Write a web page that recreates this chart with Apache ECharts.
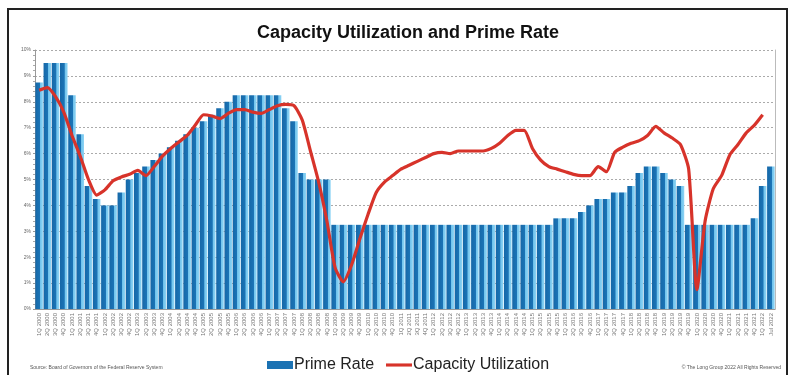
<!DOCTYPE html>
<html>
<head>
<meta charset="utf-8">
<script src="https://cdn.jsdelivr.net/npm/echarts@6/dist/echarts.min.js"></script>
<style>
  html, body { margin: 0; padding: 0; background: #fff; }
  #app { width: 789px; height: 375px; }
</style>
</head>
<body>
<div id="app"></div>
<script>
const app = document.getElementById("app");
const myChart = echarts.init(app);

// quarterly categories
const quarters = [
  "1Q 2000", "2Q 2000", "3Q 2000", "4Q 2000", "1Q 2001", "2Q 2001", "3Q 2001", "4Q 2001",
  "1Q 2002", "2Q 2002", "3Q 2002", "4Q 2002", "1Q 2003", "2Q 2003", "3Q 2003", "4Q 2003",
  "1Q 2004", "2Q 2004", "3Q 2004", "4Q 2004", "1Q 2005", "2Q 2005", "3Q 2005", "4Q 2005",
  "1Q 2006", "2Q 2006", "3Q 2006", "4Q 2006", "1Q 2007", "2Q 2007", "3Q 2007", "4Q 2007",
  "1Q 2008", "2Q 2008", "3Q 2008", "4Q 2008", "1Q 2009", "2Q 2009", "3Q 2009", "4Q 2009",
  "1Q 2010", "2Q 2010", "3Q 2010", "4Q 2010", "1Q 2011", "2Q 2011", "3Q 2011", "4Q 2011",
  "1Q 2012", "2Q 2012", "3Q 2012", "4Q 2012", "1Q 2013", "2Q 2013", "3Q 2013", "4Q 2013",
  "1Q 2014", "2Q 2014", "3Q 2014", "4Q 2014", "1Q 2015", "2Q 2015", "3Q 2015", "4Q 2015",
  "1Q 2016", "2Q 2016", "3Q 2016", "4Q 2016", "1Q 2017", "2Q 2017", "3Q 2017", "4Q 2017",
  "1Q 2018", "2Q 2018", "3Q 2018", "4Q 2018", "1Q 2019", "2Q 2019", "3Q 2019", "4Q 2019",
  "1Q 2020", "2Q 2020", "3Q 2020", "4Q 2020", "1Q 2021", "2Q 2021", "3Q 2021", "4Q 2021",
  "1Q 2022", "Jul 2022"
];

// prime rate, %
const primeRate = [
  8.75, 9.5, 9.5, 9.5, 8.25, 6.75, 4.75, 4.25, 4.0, 4.0,
  4.5, 5.0, 5.25, 5.5, 5.75, 6.0, 6.25, 6.5, 6.75, 7.0,
  7.25, 7.5, 7.75, 8.0, 8.25, 8.25, 8.25, 8.25, 8.25, 8.25,
  7.75, 7.25, 5.25, 5.0, 5.0, 5.0, 3.25, 3.25, 3.25, 3.25,
  3.25, 3.25, 3.25, 3.25, 3.25, 3.25, 3.25, 3.25, 3.25, 3.25,
  3.25, 3.25, 3.25, 3.25, 3.25, 3.25, 3.25, 3.25, 3.25, 3.25,
  3.25, 3.25, 3.25, 3.5, 3.5, 3.5, 3.75, 4.0, 4.25, 4.25,
  4.5, 4.5, 4.75, 5.25, 5.5, 5.5, 5.25, 5.0, 4.75, 3.25,
  3.25, 3.25, 3.25, 3.25, 3.25, 3.25, 3.25, 3.5, 4.75, 5.5
];

// capacity utilization, %
const capacityUtil = [
  80.9, 81.1, 80.4, 79.2, 77.4, 75.8, 74.0, 72.8, 73.2, 73.9,
  74.2, 74.4, 74.7, 74.3, 75.0, 75.8, 76.4, 76.9, 77.4, 78.2,
  79.0, 78.9, 78.7, 79.1, 79.4, 79.4, 79.2, 79.1, 79.4, 79.7,
  79.8, 79.7, 78.6, 76.2, 73.8, 70.8, 67.2, 66.1, 67.4, 69.4,
  71.3, 73.0, 73.8, 74.3, 74.8, 75.1, 75.4, 75.7, 76.0, 76.1,
  76.0, 76.2, 76.2, 76.2, 76.2, 76.4, 76.8, 77.4, 77.8, 77.8,
  76.4, 75.5, 75.0, 74.8, 74.6, 74.4, 74.3, 74.3, 75.0, 74.6,
  76.1, 76.5, 76.8, 77.0, 77.4, 78.1, 77.6, 77.2, 76.7, 74.8,
  65.5, 70.8, 73.3, 74.3, 75.9, 76.7, 77.6, 78.2, 79.0, null
];

const option = {
  backgroundColor: "#fff",
  animation: false,
  title: {
    text: "Capacity Utilization and Prime Rate",
    left: 252,
    top: 19,
    textStyle: {
      fontFamily: "Liberation Sans",
      fontSize: 18,
      fontWeight: "bold",
      color: "#111",
    },
  },
  graphic: [
    {
      type: "rect",
      shape: { x: 8, y: 9, width: 779, height: 380 },
      style: { fill: "none", stroke: "#222", lineWidth: 2 },
      silent: true,
    },
    {
      type: "text",
      left: 30,
      top: 365,
      style: {
        text: "Source: Board of Governors of the Federal Reserve System",
        fontSize: 5,
        fontFamily: "Liberation Sans",
        fill: "#555",
      },
    },
    {
      type: "text",
      right: 8,
      top: 365,
      style: {
        text: "© The Long Group 2022 All Rights Reserved",
        fontSize: 5,
        fontFamily: "Liberation Sans",
        fill: "#555",
      },
    },
  ],
  legend: {
    bottom: -3,
    left: 262,
    itemGap: 12,
    itemWidth: 26,
    itemHeight: 8,
    textStyle: {
      fontFamily: "Liberation Sans",
      fontSize: 16,
      color: "#222",
      padding: [0, 0, 0, -4],
    },
    data: [
      { name: "Prime Rate", icon: "rect", itemStyle: { color: "#1b72b3" } },
      { name: "Capacity Utilization", icon: "path://M0,0 L10,0 L10,1.2 L0,1.2 Z", itemStyle: { color: "#d7332a" } },
    ],
  },
  grid: {
    left: 35,
    right: 14,
    top: 50,
    bottom: 66,
  },
  xAxis: {
    type: "category",
    data: quarters,
    axisLine: { lineStyle: { color: "#999" } },
    axisTick: { show: false },
    axisLabel: {
      interval: 0,
      rotate: 90,
      fontSize: 6,
      color: "#777",
      margin: 4,
    },
  },
  yAxis: [
    {
      type: "value",
      min: 0,
      max: 10,
      interval: 1,
      axisLine: { show: true, lineStyle: { color: "#999" } },
      axisTick: { show: true, length: 2, lineStyle: { color: "#999" } },
      minorTick: { show: true, splitNumber: 5, length: 2, lineStyle: { color: "#aaa" } },
      axisLabel: {
        formatter: "{value}%",
        fontSize: 5,
        color: "#666",
        margin: 4,
      },
      splitLine: {
        lineStyle: { color: "#aaa", type: [2, 2], width: 1 },
      },
    },
    {
      type: "value",
      min: 64,
      max: 84,
      position: "right",
      axisLine: { show: true, lineStyle: { color: "#bbb" } },
      axisTick: { show: false },
      axisLabel: { show: false },
      splitLine: { show: false },
    },
  ],
  series: [
    {
      name: "Prime Rate",
      type: "bar",
      barCategoryGap: "8%",
      itemStyle: {
        color: {
          type: "linear",
          x: 0,
          y: 0,
          x2: 1,
          y2: 0,
          colorStops: [
            { offset: 0, color: "#1668a8" },
            { offset: 0.58, color: "#1b74b6" },
            { offset: 0.64, color: "#6fc2ec" },
            { offset: 1, color: "#8fd5f5" },
          ],
        },
      },
      data: primeRate,
    },
    {
      name: "Capacity Utilization",
      type: "line",
      yAxisIndex: 1,
      symbol: "none",
      smooth: 0.2,
      lineStyle: { color: "#d7332a", width: 3.2 },
      itemStyle: { color: "#d7332a" },
      data: capacityUtil,
    },
  ],
};
myChart.setOption(option);
</script>
</body>
</html>
